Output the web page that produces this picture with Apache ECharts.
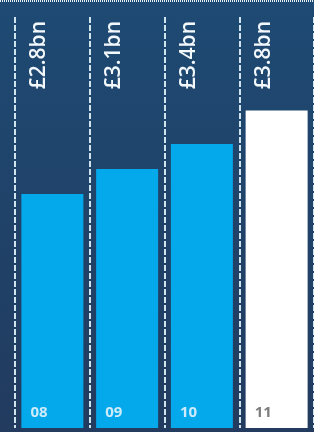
<!DOCTYPE html>
<html>
<head>
    <meta charset="utf-8">
    <title>ECharts</title>
    <script src="https://cdn.jsdelivr.net/npm/echarts@6/dist/echarts.min.js"></script>
    <style>html,body{margin:0;padding:0;overflow:hidden;}</style>
</head>
<body>
    <div id="main" style="width:314px;height:432px;"></div>
    <script type="text/javascript">
        var myChart = echarts.init(document.getElementById('main'));

        // data (£bn per year)
        var years = ['08', '09', '10', '11'];
        var values = [2.8, 3.1, 3.4, 3.8];
        var barColors = ['#04a9ec', '#04a9ec', '#04a9ec', '#ffffff'];
        var yearColors = ['#cdebfa', '#cdebfa', '#cdebfa', '#7d7d7d'];

        var option = {
            backgroundColor: {
                type: 'linear', x: 0, y: 0, x2: 0, y2: 1,
                colorStops: [
                    { offset: 0, color: '#1e4a73' },
                    { offset: 1, color: '#223b5f' }
                ]
            },
            animation: false,
            // dotted border along the top edge
            graphic: [{
                type: 'line',
                shape: { x1: 0, y1: 1, x2: 314, y2: 1 },
                style: { stroke: '#e6f0f5', lineWidth: 2, lineDash: [1, 1] }
            }],
            grid: { left: 15, right: -12, top: 17, bottom: 4 },
            xAxis: {
                type: 'category',
                data: years,
                axisLine: { show: false },
                axisTick: { show: false },
                axisLabel: { show: false },
                splitLine: {
                    show: true,
                    lineStyle: { color: '#cfe4ec', width: 2, type: [6, 2] }
                }
            },
            yAxis: {
                type: 'value',
                min: 0,
                max: 4.92,
                show: false
            },
            series: [{
                type: 'bar',
                barWidth: 62,
                data: values.map(function (v, i) {
                    return {
                        value: v,
                        itemStyle: { color: barColors[i] },
                        label: { color: yearColors[i] }
                    };
                }),
                label: {
                    show: true,
                    position: 'insideBottomLeft',
                    distance: 8,
                    offset: [1, 0],
                    fontFamily: 'Open Sans',
                    fontWeight: 'bold',
                    fontSize: 15,
                    formatter: function (p) { return years[p.dataIndex]; }
                }
            }, {
                type: 'bar',
                barWidth: 62,
                barGap: '-100%',
                silent: true,
                itemStyle: { color: 'rgba(0,0,0,0)' },
                data: values,
                label: {
                    show: true,
                    rotate: 90,
                    align: 'right',
                    verticalAlign: 'middle',
                    color: '#f2f8fb',
                    fontFamily: 'Open Sans',
                    fontWeight: 600,
                    fontSize: 21,
                    formatter: function (p) { return '£' + p.value + 'bn'; }
                },
                labelLayout: function (params) {
                    return { x: params.rect.x + 18, y: 21 };
                }
            }]
        };

        myChart.setOption(option);
    </script>
</body>
</html>
